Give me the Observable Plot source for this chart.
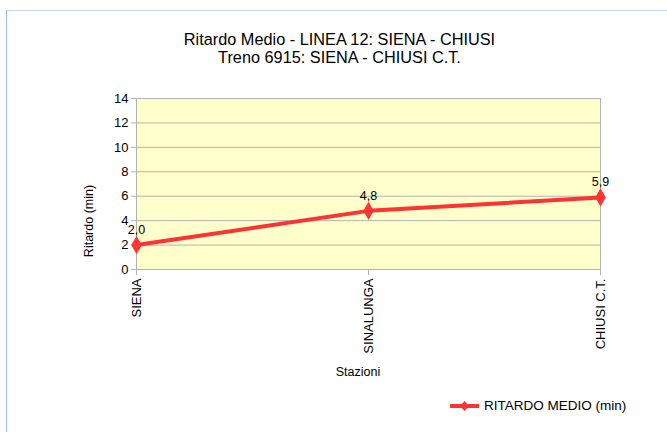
<!DOCTYPE html>
<html>
<head>
<meta charset="utf-8">
<script src="https://cdn.jsdelivr.net/npm/d3@7"></script>
<script src="https://cdn.jsdelivr.net/npm/@observablehq/plot@0.6"></script>
<style>
  html, body { margin: 0; padding: 0; background: #fff; }
  #wrap { position: relative; width: 667px; height: 432px; font-family: "Liberation Sans", Arial, sans-serif; color: #000; overflow: hidden; }
  #frame { position: absolute; left: 6px; top: 10px; width: 670px; height: 430px; border-left: 1.5px solid #9fb9e0; border-top: 1.5px solid #c7d6ec; box-sizing: border-box; }
  .t { position: absolute; white-space: nowrap; }
  #title { left: 0; width: 679px; top: 30px; text-align: center; font-size: 16.3px; line-height: 18px; }
  #ylabel { left: 89px; top: 221px; font-size: 12.5px; transform: translate(-50%, -50%) rotate(-90deg); }
  #xlabel { left: 358px; top: 372px; font-size: 12.5px; transform: translate(-50%, -50%); }
  #legend { left: 450px; top: 398px; font-size: 13.5px; display: flex; align-items: center; }
  #legend svg { margin-right: 5px; }
  #chart { position: absolute; left: 0; top: 0; }
</style>
</head>
<body>
<div id="wrap">
  <div id="frame"></div>
  <div id="chart"></div>
  <div class="t" id="title">Ritardo Medio - LINEA 12: SIENA - CHIUSI<br>Treno 6915: SIENA - CHIUSI C.T.</div>
  <div class="t" id="ylabel">Ritardo (min)</div>
  <div class="t" id="xlabel">Stazioni</div>
  <div class="t" id="legend"><svg width="29" height="12"><line x1="0" y1="6" x2="29" y2="6" stroke="#ff3333" stroke-width="4"/><path d="M14.5,1 L19,6 L14.5,11 L10,6Z" fill="#ff3333"/></svg><span>RITARDO MEDIO (min)</span></div>
</div>
<script>
const stazioni = ["SIENA", "SINALUNGA", "CHIUSI C.T."];
const ritardo = [2.0, 4.8, 5.9];
const yTicks = [0, 2, 4, 6, 8, 10, 12, 14];
const serie = "RITARDO MEDIO (min)";

const data = stazioni.map((s, i) => ({stazione: s, ritardo: ritardo[i]}));
const fmt = v => v.toFixed(1).replace(".", ",");

const chart = Plot.plot({
  width: 667,
  height: 432,
  marginLeft: 136,
  marginRight: 67,
  marginTop: 98,
  marginBottom: 163,
  style: {fontFamily: "Liberation Sans, Arial, sans-serif", fontSize: "13px", background: "transparent", color: "#000"},
  x: {type: "point", domain: stazioni, padding: 0},
  y: {domain: [0, 14]},
  marks: [
    Plot.frame({fill: "#ffffcc", stroke: "none"}),
    Plot.ruleY(yTicks, {stroke: "#b3b3b3", strokeWidth: 1}),
    Plot.ruleX(stazioni.slice(-1), {stroke: "#b3b3b3", strokeWidth: 1}),
    Plot.ruleX(stazioni.slice(0, 1), {stroke: "#b3b3b3", strokeWidth: 1}),
    Plot.axisY({ticks: yTicks, tickSize: 5, tickPadding: 3, stroke: "#b3b3b3", label: null, fontSize: 13}),
    Plot.axisX({tickSize: 6, tickPadding: 3, tickRotate: -90, stroke: "#b3b3b3", label: null, fontSize: 13}),
    Plot.line(data, {x: "stazione", y: "ritardo", stroke: "#ff3333", strokeWidth: 4}),
    Plot.dot(data, {x: "stazione", y: "ritardo", symbol: "diamond", r: 5.5, fill: "#ff3333", stroke: "none"}),
    Plot.text(data, {x: "stazione", y: "ritardo", text: d => fmt(d.ritardo), dy: -15, fontSize: 12.5, fill: "#000"})
  ]
});
document.getElementById("chart").appendChild(chart);
</script>
</body>
</html>
